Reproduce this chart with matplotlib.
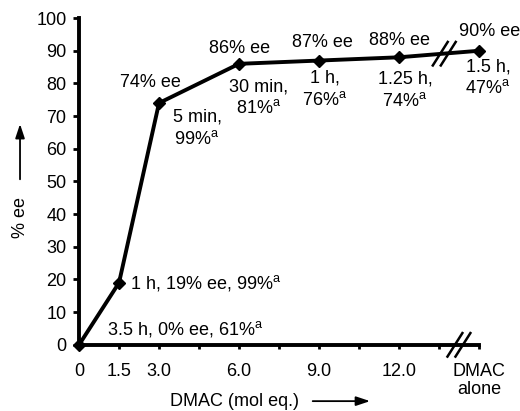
import matplotlib
matplotlib.use("Agg")
import matplotlib.pyplot as plt

plt.rcParams['font.family'] = ['Liberation Sans', 'DejaVu Sans']
plt.rcParams['mathtext.fontset'] = 'custom'
plt.rcParams['mathtext.rm'] = 'Liberation Sans'

# data
dmac = [0, 1.5, 3.0, 6.0, 9.0, 12.0, 15.0]
ee = [0, 19, 74, 86, 87, 88, 90]
tick_pos = [0, 1.5, 3.0, 6.0, 9.0, 12.0, 15.0]
tick_lab = ["0", "1.5", "3.0", "6.0", "9.0", "12.0", "DMAC\nalone"]
minor_pos = [4.5, 7.5, 10.5, 13.5]

ee_labels = ["", "", "74% ee", "86% ee", "87% ee", "88% ee", "90% ee"]
cond_labels = ["", "", "5 min,\n99%$^{\\rm a}$", "30 min,\n81%$^{\\rm a}$",
               "1 h,\n76%$^{\\rm a}$", "1.25 h,\n74%$^{\\rm a}$", "1.5 h,\n47%$^{\\rm a}$"]
side_labels = ["3.5 h, 0% ee, 61%$^{\\rm a}$", "1 h, 19% ee, 99%$^{\\rm a}$"]

fig = plt.figure(figsize=(5.2, 4.11), dpi=100)
ax = fig.add_axes([0.152, 0.161, 0.769, 0.795])

ax.plot(dmac, ee, color="black", lw=2.8, marker="D", markersize=6.5, clip_on=False, zorder=5)

ax.set_xlim(0, 15)
ax.set_ylim(0, 100)
ax.spines['top'].set_visible(False)
ax.spines['right'].set_visible(False)
ax.spines['left'].set_linewidth(2.8)
ax.spines['bottom'].set_linewidth(2.8)
ax.set_yticks(range(0, 101, 10))
ax.set_xticks(tick_pos)
ax.set_xticklabels(tick_lab, linespacing=1.05)
ax.set_xticks(minor_pos, minor=True)
ax.tick_params(axis='y', length=4, width=2, pad=5, labelsize=13)
ax.tick_params(axis='x', which='both', length=3, width=2, pad=10, labelsize=13)

fs = 13
# labels above points
ee_off = [None, None, (-9, 21), (1, 15), (3, 18), (1, 17), (11, 19)]
cond_off = [None, None, (38, -25), (20, -34), (6, -29), (6, -33), (9, -27)]
for i in range(2, len(dmac)):
    ax.annotate(ee_labels[i], (dmac[i], ee[i]), xytext=ee_off[i], textcoords='offset pixels',
                ha='center', va='center', fontsize=fs, annotation_clip=False)
    ax.annotate(cond_labels[i], (dmac[i], ee[i]), xytext=cond_off[i], textcoords='offset pixels',
                ha='center', va='center', fontsize=fs, linespacing=1.3, annotation_clip=False)

ax.annotate(side_labels[0], (dmac[0], ee[0]), xytext=(28, 16), textcoords='offset pixels',
            ha='left', va='center', fontsize=fs)
ax.annotate(side_labels[1], (dmac[1], ee[1]), xytext=(11, 0), textcoords='offset pixels',
            ha='left', va='center', fontsize=fs)

# break marks
def slashes(xc, yc, dx=0.28, dy=3.6, gap=0.3):
    for s in (-gap / 2, gap / 2):
        ax.plot([xc + s - dx, xc + s + dx], [yc - dy, yc + dy], color="black", lw=1.8,
                clip_on=False, zorder=6)

slashes(14.25, 0)
slashes(13.7, 89.1)

# axis labels with arrows
fig.text(0.0385, 0.472, "% ee", rotation=90, ha='center', va='center', fontsize=fs)
fig.add_artist(matplotlib.patches.FancyArrowPatch((0.0385, 0.557), (0.0385, 0.705),
               transform=fig.transFigure, arrowstyle='-|>,head_length=0.6,head_width=0.2',
               mutation_scale=14, lw=1.3, color="black"))
fig.text(0.45, 0.024, "DMAC (mol eq.)", ha='center', va='center', fontsize=fs)
fig.add_artist(matplotlib.patches.FancyArrowPatch((0.596, 0.024), (0.717, 0.024),
               transform=fig.transFigure, arrowstyle='-|>,head_length=0.6,head_width=0.2',
               mutation_scale=14, lw=1.3, color="black"))

fig.savefig("out.png", dpi=100)
